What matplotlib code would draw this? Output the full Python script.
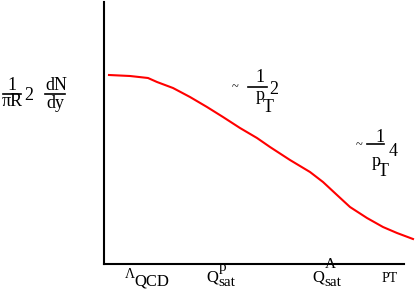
import matplotlib
matplotlib.use('Agg')
import matplotlib.pyplot as plt
from matplotlib.lines import Line2D

# Curve (arbitrary units, x to the right, y upward)
curve_x = [5, 26, 44, 53, 69, 86, 103, 119, 136, 153, 166, 186, 206, 219, 233, 246, 263, 279, 293, 309]
curve_y = [189, 188, 186, 182, 176, 167, 157, 147, 136, 126, 117, 104, 92, 82, 69, 57, 46, 37, 31, 25]

W, H = 415, 306
plt.rcParams['font.family'] = ['Liberation Serif', 'DejaVu Serif']

fig = plt.figure(figsize=(W / 100, H / 100), dpi=100)
ax = fig.add_axes([104 / W, 42 / H, 311 / W, 262 / H])
ax.plot(curve_x, curve_y, color='red', lw=1.5)
ax.set_xlim(0, 311)
ax.set_ylim(0, 262)
ax.set_xticks([])
ax.set_yticks([])
ax.spines['top'].set_visible(False)
ax.spines['right'].set_visible(False)
ax.spines['bottom'].set_bounds(0, 300)
for s in ['left', 'bottom']:
    ax.spines[s].set_linewidth(1.5)


# helpers working in pixel coordinates of the picture
def t(x, y, s, size=13, ha='left'):
    fig.text(x / W, 1 - y / H, s, ha=ha, va='center', fontsize=size)


def bar(x0, x1, y):
    fig.add_artist(Line2D([x0 / W, x1 / W], [1 - y / H, 1 - y / H],
                          transform=fig.transFigure, color='black', lw=1.2))


# y label: 1/piR^2 dN/dy
t(12, 86, '1', ha='center')
bar(3, 21, 94)
t(2, 102, 'πR')
t(24, 95, '2')
t(45, 86, 'dN')
bar(45, 65, 94)
t(46, 103, 'dy')

# ~ 1/pT^2
t(235, 87, '~', 9, ha='center')
t(260, 78, '1', ha='center')
bar(248, 267, 87)
t(256, 95, 'p')
t(263, 107, 'T')
t(269, 89, '2')

# ~ 1/pT^4
t(359, 145, '~', 9, ha='center')
t(380, 137, '1', ha='center')
bar(367, 384, 144)
t(372, 161, 'p')
t(378, 172, 'T')
t(389, 152, '4')

# x axis labels
t(125, 274, 'Λ', 10)
t(134, 281, 'QCD', 12)
t(206, 278, 'Q', 12)
t(219, 268, 'p', 11)
t(218, 283, 'sat', 11)
t(312, 278, 'Q', 12)
t(325, 265, 'A', 11)
t(324, 283, 'sat', 11)
t(382, 278, 'PT', 10)

fig.savefig('out.png', dpi=100)
